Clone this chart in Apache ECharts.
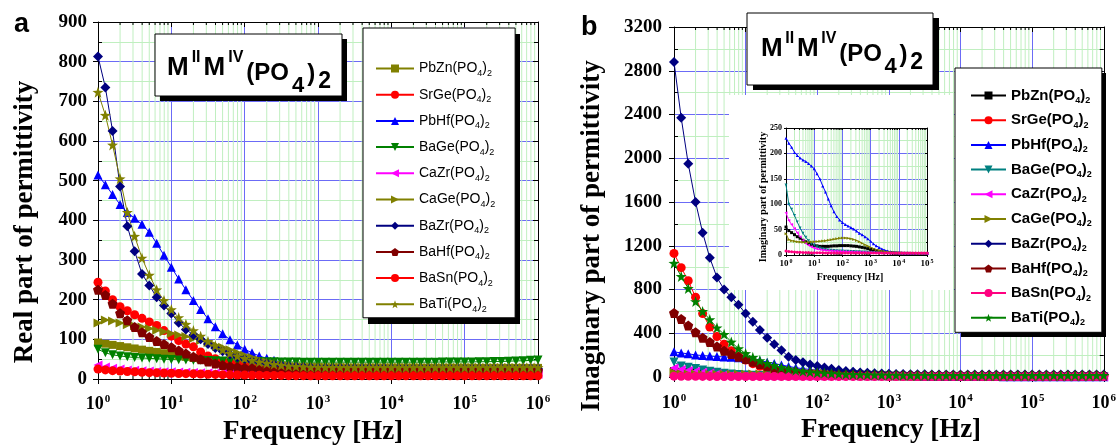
<!DOCTYPE html>
<html>
<head>
<meta charset="utf-8">
<title>permittivity</title>
<script src="https://cdn.jsdelivr.net/npm/echarts@6/dist/echarts.min.js"></script>
<style>html,body{margin:0;padding:0;background:#fff}</style>
</head>
<body>
<div id="main" style="width:1119px;height:445px"></div>
<script>
// frequency points (Hz), shared by every curve
var freq = [1,1.26,1.58,2,2.51,3.16,3.98,5.01,6.31,7.94,
  10,12.6,15.8,20,25.1,31.6,39.8,50.1,63.1,79.4,
  100,126,158,200,251,316,398,501,631,794,
  1000,1260,1580,2000,2510,3160,3980,5010,6310,7940,
  1e4,1.26e4,1.58e4,2e4,2.51e4,3.16e4,3.98e4,5.01e4,6.31e4,7.94e4,
  1e5,1.26e5,1.58e5,2e5,2.51e5,3.16e5,3.98e5,5.01e5,6.31e5,7.94e5,
  1e6];

// minor grid positions on the log axes
var minorFreq = [2,3,4,5,6,7,8,9,20,30,40,50,60,70,80,90,
  200,300,400,500,600,700,800,900,2e3,3e3,4e3,5e3,6e3,7e3,8e3,9e3,
  2e4,3e4,4e4,5e4,6e4,7e4,8e4,9e4,2e5,3e5,4e5,5e5,6e5,7e5,8e5,9e5];

var compounds = ['PbZn','SrGe','PbHf','BaGe','CaZr','CaGe','BaZr','BaHf','BaSn','BaTi'];

// (a) real part
var rePbZn = [92,89,86,83,80,77,74,71,68,65, 62,59,56,53,50,47,44,42,40,38, 36,35,34,33,32,31.5,31,30.5,30,30,
  30,29.5,29.5,29.5,29,29,29,29,29,29, 29,29,29,29,28.5,28.5,28.5,28.5,28.5,28.5, 28.5,28.5,28,28,28,28,28,28,28,28, 28];
var reSrGe = [244,222,200,182,172,162,153,144,135,122, 108,97,88,81,68,58,51,45,41,37, 34,31,28,26,24,22,21,20,19,19,
  18,18,18,18,18,17,17,17,17,17, 17,17,17,17,17,17,16,16,16,16, 16,16,16,16,16,16,16,16,16,16, 16];
var rePbHf = [514,490,465,440,420,405,390,370,342,312, 282,252,225,198,175,152,132,114,99,86, 75,66,58,52,47,43,40,37,35,34,
  33,33,32,32,32,32,32,32,32,32, 31,31,31,31,31,31,31,31,31,31, 31,31,31,31,31,31,31,31,31,31, 31];
var reBaGe = [75,66,61,58,56,54,53,52,51,50, 49,48.5,48,47.5,47,46.5,46,45.5,45,45, 44.5,44,44,43.5,43.5,43,43,43,42.5,42.5,
  42.5,42.5,42.5,42.5,42.5,42.5,42.5,42.5,42.5,42.5, 42.5,42.5,42.5,42.5,42.5,42.5,42.5,43,43,43, 43,43,43.5,43.5,44,44,45,45.5,46,47, 48];
var reCaZr = [35,30,27,25,23,22,21,20,19,18.5, 18,17.5,17,16.5,16,15.5,15,14.5,14,14, 13.5,13.5,13,13,13,12.5,12.5,12.5,12,12,
  12,12,12,12,12,12,12,12,12,12, 12,12,12,12,12,12,12,12,12,12, 12,12,12,12,12,12,12,12,12,12, 12];
var reCaGe = [141,149,146,141,137,134,131,127,123,119, 115,111,107,102,97,92,86,80,74,67, 60,54,48,43,39,36,34,32,31,30,
  30,29.5,29.5,29.5,29,29,29,29,29,29, 29,29,29,29,29,29,29,29,29,29, 29,29,29,29,29,29,29,29,29,29, 29];
var reBaZr = [813,735,625,485,385,322,265,236,206,185, 165,142,125,111,100,88,78,70,62,55, 50,45,42,39,36,34,32,31,30,29,
  28,28,27.5,27.5,27,27,27,27,27,27, 26.5,26.5,26.5,26.5,26.5,26.5,26,26,26,26, 26,26,26,26,26,26,26,26,26,26, 26];
var reBaHf = [225,212,190,166,148,131,118,106,96,88, 80,72,64,56,50,44,39,35,32,30, 28,27,26,25,24,24,23,23,23,22,
  22,22,22,22,22,22,22,21.5,21.5,21.5, 21.5,21.5,21.5,21.5,21,21,21,21,21,21, 21,21,21,21,21,21,21,21,21,21, 21];
var reBaSn = [25,23,21,20,19,18,17,16,15.5,15, 14.5,14,13.5,13,12.5,12,11.5,11,10.5,10, 10,9.5,9.5,9,9,9,8.5,8.5,8.5,8,
  8,8,8,8,8,8,8,8,8,8, 8,8,8,8,8,8,8,8,8,8, 8,8,8,8,8,8,8,8,8,8, 8];
var reBaTi = [723,665,590,505,420,360,305,262,225,198, 175,155,138,122,108,95,84,74,65,58, 52,47,43,40,37,35,33,32,31,30,
  30,29.5,29.5,29.5,29,29,29,29,29,29, 29,29,29,29,29,29,29,29,29,29, 29,29,29,29,29,29,29,29,29,29, 29];

// (b) imaginary part
var imPbZn = [55,48,44,40,36,33,29,26,23,21, 19,18,17,17,17,17,17.5,18,18,18.5, 18.5,18.5,18.5,18,17.5,17,16,15,14,12.5,
  11,10,8.5,7.5,6.5,5.5,5,4.5,4,3.8, 3.5,3.4,3.3,3.2,3.1,3,3,3,3,3, 3,3,3,3,3,3,3,3,3,3, 3];
var imSrGe = [1130,1000,880,730,580,457,370,300,240,190, 155,122,98,78,62,50,41,35,30,26, 23,21,19,18,17,16,15.5,15,14.5,14,
  14,13.5,13,13,12.5,12.5,12,12,12,12, 12,12,12,12,12,12,12,12,12,12, 12,12,12,12,12,12,12,12,12,12, 12];
var imPbHf = [230,220,212,202,196,191,187,184,180,175, 170,160,150,136,124,110,97,85,76,69, 64,60,57,54,51,47,43,40,36,32,
  27,22,18,15,12,9.5,8,6.5,5.5,5, 4.5,4.2,4,3.8,3.6,3.5,3.4,3.3,3.2,3.1, 3,3,3,3,3,3,3,3,3,3, 3];
var imBaGe = [138,100,90,78,65,53,43,35,28,22, 19,16,14,12,11,10,9.5,9,8.5,8, 8,7.5,7.5,7,7,6.5,6.5,6,6,5.5,
  5,5,4.5,4.5,4,4,4,3.5,3.5,3.5, 3,3,3,3,3,3,3,3,3,3, 3,3,3,3,3,3,3,3,3,3, 3];
var imCaZr = [83,68,60,52,44,36,29,23,19,16, 14,12,11,10,9.5,9,8.5,8,8,7.5, 7,7,6.5,6.5,6,6,6,5.5,5.5,5,
  5,5,4.5,4.5,4,4,4,3.5,3.5,3.5, 3,3,3,3,3,3,3,3,3,3, 3,3,3,3,3,3,3,3,3,3, 3];
var imCaGe = [42,30,28,27,26,25.5,25,25,25,25.5, 26,26.5,27,27.5,28,29,30,31,32,33, 33.5,33.5,33,32,30.5,28.5,26,23,20,17.5,
  15,12.5,10.5,9,8,7,6,5.5,5,4.5, 4,3.8,3.6,3.5,3.4,3.3,3.2,3.1,3,3, 3,3,3,3,3,3,3,3,3,3, 3];
var imBaZr = [2880,2370,1950,1600,1320,1090,910,800,730,660, 580,505,430,360,300,245,185,155,135,115, 100,88,76,64,56,48,42,38,35,32,
  30,28,27,26,25,24.5,24,23.5,23,23, 22.5,22.5,22,22,22,22,22,22,22,22, 22,22,22,22,22,22,22,22,22,22, 22];
var imBaHf = [585,530,470,410,360,320,280,240,210,185, 165,140,118,98,82,68,57,48,40,34, 29,26,23,21,19,18,17,16,15.5,15,
  14.5,14,14,13.5,13.5,13,13,13,13,13, 13,13,13,13,13,13,13,13,13,13, 13,13,13,13,13,13,13,13,13,13, 13];
var imBaSn = [8,7,6.5,6,5.5,5.5,5,5,5,4.5, 4.5,4.5,4.5,4.5,4,4,4,4,4,4, 4,4,4,4,4,4,4,4,4,4,
  4,4,4,4,4,4,4,4,4,4, 4,4,4,4,4,4,4,4,4,4, 4,4,4,4,4,4,4,4,4,4, 4];
var imBaTi = [1040,920,810,690,600,525,450,390,320,260, 215,180,150,125,106,88,74,62,53,46, 40,36,32,29,26,24,22,21,20,19,
  18,17.5,17,16.5,16,16,15.5,15.5,15,15, 15,15,15,15,15,15,15,15,15,15, 15,15,15,15,15,15,15,15,15,15, 15];

var realData = [rePbZn, reSrGe, rePbHf, reBaGe, reCaZr, reCaGe, reBaZr, reBaHf, reBaSn, reBaTi];
var imagData = [imPbZn, imSrGe, imPbHf, imBaGe, imCaZr, imCaGe, imBaZr, imBaHf, imBaSn, imBaTi];
var insetIdx = [0, 2, 3, 4, 5, 8];   // curves repeated in the inset

var colorsA = ['#808000','#ff0000','#0000ff','#008000','#ff00ff','#808000','#000080','#800000','#ff0000','#808000'];
var colorsB = ['#000000','#ff0000','#0000ff','#008080','#ff00ff','#808000','#000080','#800000','#ff0080','#008000'];

var pentagon = 'path://M0,-10L9.51,-3.09L5.88,8.09L-5.88,8.09L-9.51,-3.09Z';
var star = 'path://M0,-10L2.35,-3.24L9.51,-3.09L3.8,1.24L5.88,8.09L0,4L-5.88,8.09L-3.8,1.24L-9.51,-3.09L-2.35,-3.24Z';
var symbols = ['rect','circle','triangle','triangle','triangle','triangle','diamond',pentagon,'circle',star];
var symbolRot = [0,0,0,180,90,-90,0,0,0,0];
var symbolSz = [8,9,9,9,9,9,10,10,9,11];

var serif = '"Liberation Serif", "Times New Roman", serif';
var sans = '"Liberation Sans", Arial, sans-serif';
var blue = '#6b6bf6', green = '#c0efc0';

var myChart = echarts.init(document.getElementById('main'));

function pairs(vals) {
  return freq.map(function(f, i) { return [f, vals[i]]; });
}

function lineSeries(name, vals, color, k, xi, yi, size, z) {
  return {
    type: 'line', name: name, xAxisIndex: xi, yAxisIndex: yi, z: z,
    data: pairs(vals),
    symbol: symbols[k], symbolRotate: symbolRot[k], symbolSize: size,
    itemStyle: { color: color },
    lineStyle: { color: color, width: 1 },
    emphasis: { disabled: true },
    animation: false
  };
}

// light green minor lines + small ticks for the log axes
function minorSeries(xi, yi, z, tick) {
  return {
    type: 'custom', xAxisIndex: xi, yAxisIndex: yi, z: z, silent: true, animation: false,
    data: minorFreq.map(function(f) { return [f, 0]; }),
    renderItem: function(params, api) {
      var cs = params.coordSys;
      var x = api.coord([api.value(0), api.value(1)])[0];
      if (x < cs.x - 0.5 || x > cs.x + cs.width + 0.5) return;
      var top = cs.y, bot = cs.y + cs.height;
      return { type: 'group', children: [
        { type: 'line', shape: { x1: x, y1: top, x2: x, y2: bot }, style: { stroke: green, lineWidth: 1 } },
        { type: 'line', shape: { x1: x, y1: bot, x2: x, y2: bot - tick }, style: { stroke: '#000', lineWidth: 1 } },
        { type: 'line', shape: { x1: x, y1: top, x2: x, y2: top + tick }, style: { stroke: '#000', lineWidth: 1 } }
      ]};
    }
  };
}

function expLabel(fs, margin) {
  return {
    margin: margin,
    formatter: function(v) { return '{b|10}{e|' + Math.round(Math.log10(v)) + '}'; },
    rich: {
      b: { fontFamily: serif, fontWeight: 'bold', fontSize: fs, lineHeight: fs, color: '#000' },
      e: { fontFamily: serif, fontWeight: 'bold', fontSize: Math.round(fs * 0.62), lineHeight: Math.round(fs * 0.62),
           padding: [0, 0, Math.round(fs * 0.5), 1], color: '#000' }
    }
  };
}

function xAxes(gi, max, fs, margin, tick, z) {
  var n = Math.round(Math.log10(max));
  return [{
    type: 'log', logBase: 10, gridIndex: gi, position: 'bottom', min: 1, max: max, splitNumber: n, z: z,
    axisLine: { show: true, onZero: false, lineStyle: { color: '#000', width: 1 } },
    axisTick: { show: true, inside: false, length: tick, lineStyle: { color: '#000' } },
    axisLabel: expLabel(fs, margin),
    splitLine: { show: true, lineStyle: { color: blue, width: 1 } }
  }, {
    type: 'log', logBase: 10, gridIndex: gi, position: 'top', min: 1, max: max, splitNumber: n, z: z,
    axisLine: { show: true, onZero: false, lineStyle: { color: '#000', width: 1 } },
    axisTick: { show: true, inside: true, length: tick, lineStyle: { color: '#000' } },
    axisLabel: { show: false }, splitLine: { show: false }
  }];
}

function yAxes(gi, max, step, fs, margin, tick, z) {
  var base = { type: 'value', gridIndex: gi, min: 0, max: max, interval: step, z: z };
  return [
    Object.assign({}, base, {
      position: 'left',
      axisLine: { show: true, onZero: false, lineStyle: { color: '#000', width: 1 } },
      axisTick: { show: true, inside: false, length: tick, lineStyle: { color: '#000' } },
      minorTick: { show: false, splitNumber: 2 },
      axisLabel: { margin: margin, fontFamily: serif, fontWeight: 'bold', fontSize: fs, color: '#000',
                   formatter: function(v) { return String(v); } },
      splitLine: { show: true, lineStyle: { color: blue, width: 1 } },
      minorSplitLine: { show: true, lineStyle: { color: green, width: 1 } }
    }),
    Object.assign({}, base, {
      position: 'left',
      axisLine: { show: false }, axisLabel: { show: false }, splitLine: { show: false },
      axisTick: { show: false, inside: true },
      minorTick: { show: true, splitNumber: 2, length: tick - 1, lineStyle: { color: '#000' } }
    }),
    Object.assign({}, base, {
      position: 'right',
      axisLine: { show: true, onZero: false, lineStyle: { color: '#000', width: 1 } },
      axisTick: { show: true, inside: true, length: tick, lineStyle: { color: '#000' } },
      minorTick: { show: true, splitNumber: 2, length: tick - 1, lineStyle: { color: '#000' } },
      axisLabel: { show: false }, splitLine: { show: false }
    })
  ];
}

var series = [
  minorSeries(0, 0, 0, 3),
  minorSeries(2, 3, 0, 3),
  minorSeries(4, 6, 3, 2)
];
compounds.forEach(function(c, k) {
  series.push(lineSeries(c + '|a', realData[k], colorsA[k], k, 0, 0, symbolSz[k], 2));
});
compounds.forEach(function(c, k) {
  series.push(lineSeries(c + '|b', imagData[k], colorsB[k], k, 2, 3, symbolSz[k], 2));
});
insetIdx.forEach(function(k) {
  series.push(lineSeries(compounds[k] + '|i', imagData[k], colorsB[k], k, 4, 6, 3, 4));
});

function legendFormatter(name) {
  return '{t|' + name.split('|')[0] + '(PO}{s|4}{t|)}{s|2}';
}
function legendRich(fs, weight) {
  return {
    t: { fontFamily: sans, fontWeight: weight, fontSize: fs, lineHeight: 18, color: '#000' },
    s: { fontFamily: sans, fontWeight: weight, fontSize: 9, lineHeight: 8, padding: [10, 0, 0, 0], color: '#000' }
  };
}

// boxed "MIIMIV(PO4)2" label: pieces laid out left to right with measured widths
var measureCtx = document.createElement('canvas').getContext('2d');
var titlePieces = [['M', 26, 42], ['II', 16, 29], ['M', 26, 42], ['IV', 16, 29],
                   ['(PO', 24, 47], ['4', 22, 59], [')', 24, 48], ['2', 23, 55]];
function titleBox(bx, by, bw, bh, tx, tw, dy, sx, sy) {
  var widths = titlePieces.map(function(p) {
    measureCtx.font = 'bold ' + p[1] + 'px ' + sans;
    return measureCtx.measureText(p[0]).width;
  });
  var total = widths.reduce(function(a, b) { return a + b; }, 0);
  var gap = Math.max(0, (tw - total) / (titlePieces.length - 1));
  var els = [
    { type: 'rect', shape: { x: bx + sx, y: by + sy, width: bw, height: bh }, style: { fill: '#000' }, z: 5, silent: true },
    { type: 'rect', shape: { x: bx, y: by, width: bw, height: bh }, style: { fill: '#fff', stroke: '#000', lineWidth: 1 }, z: 6, silent: true }
  ];
  var x = tx;
  titlePieces.forEach(function(p, i) {
    els.push({
      type: 'text', x: x, y: by + dy + p[2] - 0.31 * p[1], z: 7, silent: true,
      style: { text: p[0], font: 'bold ' + p[1] + 'px ' + sans, fill: '#000',
               align: 'left', verticalAlign: 'middle', textAlign: 'left', textVerticalAlign: 'middle' }
    });
    x += widths[i] + gap;
  });
  return els;
}

function nameText(x, y, text, fs, rot) {
  return {
    type: 'text', x: x, y: y, rotation: rot, z: 7, silent: true,
    style: { text: text, font: 'bold ' + fs + 'px ' + serif, fill: '#000',
             align: 'center', verticalAlign: 'middle', textAlign: 'center', textVerticalAlign: 'middle' }
  };
}

var option = {
  backgroundColor: '#fff',
  animation: false,
  grid: [
    { left: 98, right: 581, top: 22, bottom: 66 },
    { left: 674, right: 13, top: 27, bottom: 68 },
    { left: 786, right: 192, top: 128, bottom: 190 }
  ],
  xAxis: [].concat(xAxes(0, 1e6, 18, 16, 5, 0), xAxes(1, 1e6, 18, 17, 5, 0), xAxes(2, 1e5, 9, 4, 2, 3)),
  yAxis: [].concat(yAxes(0, 900, 100, 19, 11, 5, 0), yAxes(1, 3200, 400, 19, 12, 5, 0), yAxes(2, 250, 50, 8, 4, 2, 3)),
  legend: [{
    data: compounds.map(function(c) { return c + '|a'; }),
    orient: 'vertical', left: 363, top: 28, padding: [31, 20, 4, 12], itemGap: 7.2, z: 5,
    itemWidth: 38, itemHeight: 10, selectedMode: false,
    backgroundColor: '#fff', borderColor: '#000', borderWidth: 1,
    formatter: legendFormatter, textStyle: { rich: legendRich(14, 'normal') }
  }, {
    data: compounds.map(function(c) { return c + '|b'; }),
    orient: 'vertical', left: 955, top: 68, padding: [18, 10, 5, 15], itemGap: 5.7, z: 5,
    itemWidth: 35, itemHeight: 10, selectedMode: false,
    backgroundColor: '#fff', borderColor: '#000', borderWidth: 1,
    formatter: legendFormatter, textStyle: { rich: legendRich(15, 'bold') }
  }],
  graphic: [].concat(
    [
      { type: 'rect', shape: { x: 729, y: 95, width: 224, height: 195 }, style: { fill: '#fff' }, z: 1, silent: true },
      { type: 'rect', shape: { x: 368, y: 34, width: 152, height: 290 }, style: { fill: '#000' }, z: 4, silent: true },
      { type: 'rect', shape: { x: 961, y: 73, width: 145, height: 264 }, style: { fill: '#000' }, z: 4, silent: true },
      { type: 'text', x: 14, y: 25, z: 7, silent: true,
        style: { text: 'a', font: 'bold 27px ' + sans, fill: '#000', verticalAlign: 'middle', textVerticalAlign: 'middle' } },
      { type: 'text', x: 581, y: 28, z: 7, silent: true,
        style: { text: 'b', font: 'bold 27px ' + sans, fill: '#000', verticalAlign: 'middle', textVerticalAlign: 'middle' } },
      nameText(313, 432, 'Frequency [Hz]', 27, 0),
      nameText(891, 430, 'Frequency [Hz]', 27, 0),
      nameText(25, 222, 'Real part of permittivity', 27, Math.PI / 2),
      nameText(592, 236, 'Imaginary part of permittivity', 27, Math.PI / 2),
      nameText(850, 277, 'Frequency [Hz]', 10, 0),
      nameText(763, 197, 'Imaginary part of permittivity', 10, Math.PI / 2)
    ],
    titleBox(155, 34, 187, 62, 167, 164, 0, 5, 5),
    titleBox(747, 13, 186, 72, 761, 162, 2, 6, 5)
  ),
  series: series
};

myChart.setOption(option);
</script>
</body>
</html>
